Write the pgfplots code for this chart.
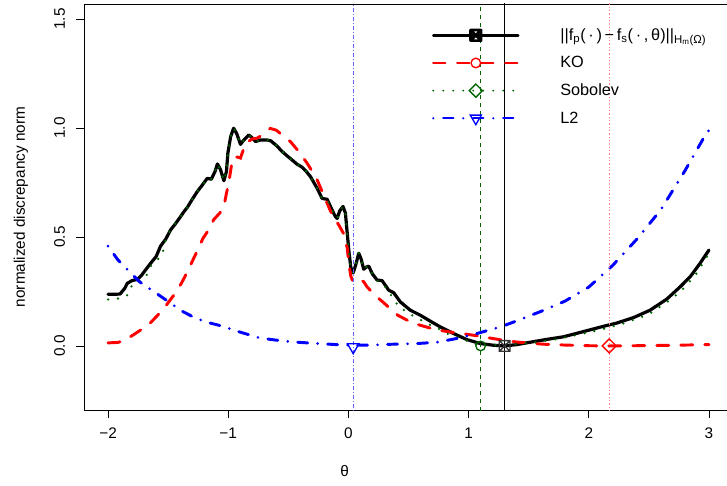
\documentclass[border=0pt]{standalone}
\usepackage{fontspec}
\setmainfont{Liberation Sans}
\usepackage{pgfplots}
\pgfplotsset{compat=1.18}
\definecolor{dkgreen}{RGB}{0,100,0}
% square with a cross (R pch 7)
\pgfdeclareplotmark{sqx}{%
  \pgfpathrectangle{\pgfpoint{-\pgfplotmarksize}{-\pgfplotmarksize}}{\pgfpoint{2\pgfplotmarksize}{2\pgfplotmarksize}}%
  \pgfpathmoveto{\pgfpoint{-\pgfplotmarksize}{-\pgfplotmarksize}}%
  \pgfpathlineto{\pgfpoint{\pgfplotmarksize}{\pgfplotmarksize}}%
  \pgfpathmoveto{\pgfpoint{-\pgfplotmarksize}{\pgfplotmarksize}}%
  \pgfpathlineto{\pgfpoint{\pgfplotmarksize}{-\pgfplotmarksize}}%
  \pgfusepathqstroke}
\newcommand{\lent}[1]{\raisebox{0pt}[9pt][3pt]{#1}}

\pgfplotsset{
  hstyle/.style={black, line width=2.4pt, line cap=round, line join=round},
  kostyle/.style={red, line width=2.2pt, line cap=round, dash pattern=on 9pt off 9pt},
  sobstyle/.style={dkgreen, line width=1.9pt, line cap=round, dash pattern=on 0pt off 7.5pt},
  l2style/.style={blue, line width=2.2pt, line cap=round, dash pattern=on 0pt off 7.5pt on 7.5pt off 7.5pt},
}

\begin{document}
\begin{tikzpicture}[font=\fontsize{11.5}{13.8}\selectfont]
\begin{axis}[
  at={(0,0)}, anchor=south west,
  scale only axis, width=482.25pt, height=304.5pt,
  xmin=-2.2, xmax=3.15, ymin=-0.294, ymax=1.569,
  axis x line*=box, axis y line*=left,
  axis line style={black, line width=0.6pt},
  xtick pos=left, ytick pos=left,
  tick align=outside, major tick length=6pt,
  tick style={black, line width=0.6pt},
  xtick={-2,-1,0,1,2,3}, xticklabels={−2,−1,0,1,2,3},
  ytick={0,0.5,1,1.5}, yticklabels={0.0,0.5,1.0,1.5},
  yticklabel style={rotate=90, anchor=south, inner sep=8pt},
  xticklabel style={inner sep=7pt},
  xlabel={θ}, ylabel={normalized discrepancy norm},
  xlabel style={at={(axis description cs:0.4054,-0.15)}, anchor=center},
  ylabel style={at={(axis description cs:-0.098,0.5)}, anchor=center, rotate=0},
  legend style={draw=none, fill=none, at={(axis description cs:0.5428,0.9408)}, anchor=north west,
    inner sep=0pt, row sep=10.25pt, column sep=31.5pt,
    font=\fontsize{12.2}{14}\selectfont,
    nodes={inner sep=0pt}},
  legend cell align=left,
  legend image code/.code={%
    \path[draw=none, fill=none, use as bounding box] (0pt,-5pt) rectangle (63.75pt,5pt);
    \draw[mark repeat=2,mark phase=2,#1] plot coordinates {(0pt,0pt)(31.9pt,0pt)(63.75pt,0pt)};},
]
% ||f_p - f_s||
\addplot[hstyle, forget plot] coordinates {
(-2.00,0.237)(-1.95,0.237)(-1.90,0.238)(-1.86,0.265)(-1.84,0.287)(-1.80,0.300)(-1.756,0.305)
(-1.72,0.325)(-1.70,0.340)(-1.646,0.379)(-1.60,0.410)(-1.563,0.458)(-1.52,0.490)(-1.48,0.532)
(-1.44,0.560)(-1.397,0.593)(-1.37,0.615)(-1.34,0.636)(-1.30,0.672)(-1.258,0.708)(-1.22,0.735)
(-1.175,0.769)(-1.141,0.765)(-1.11,0.800)(-1.09,0.835)(-1.065,0.810)(-1.036,0.758)(-1.015,0.800)
(-1.003,0.884)(-0.98,0.960)(-0.955,0.999)(-0.93,0.975)(-0.898,0.925)(-0.87,0.945)(-0.829,0.968)
(-0.80,0.955)(-0.773,0.938)(-0.73,0.945)(-0.68,0.945)(-0.648,0.942)(-0.60,0.920)(-0.551,0.892)
(-0.51,0.872)(-0.468,0.853)(-0.43,0.835)(-0.385,0.820)(-0.35,0.800)(-0.316,0.777)(-0.26,0.723)
(-0.219,0.677)(-0.20,0.675)(-0.177,0.673)(-0.136,0.624)(-0.11,0.595)(-0.094,0.585)(-0.072,0.620)
(-0.045,0.640)(-0.025,0.610)(-0.012,0.530)(0.005,0.430)(0.02,0.360)(0.039,0.335)(0.06,0.370)
(0.086,0.425)(0.105,0.400)(0.127,0.352)(0.15,0.362)(0.169,0.366)(0.20,0.330)(0.239,0.302)
(0.28,0.300)(0.335,0.256)(0.377,0.244)(0.432,0.202)(0.515,0.164)(0.598,0.141)(0.668,0.118)
(0.765,0.087)(0.875,0.057)(0.986,0.029)(1.097,0.011)(1.208,0.003)(1.30,0.000)(1.40,0.006)
(1.513,0.017)(1.65,0.030)(1.79,0.042)(1.95,0.065)(2.122,0.090)(2.233,0.105)(2.372,0.130)
(2.51,0.164)(2.649,0.215)(2.76,0.271)(2.843,0.317)(2.926,0.379)(3.00,0.440)};
% KO
\addplot[kostyle, forget plot] coordinates {
(-2.00,0.014)(-1.917,0.016)(-1.85,0.030)(-1.78,0.054)(-1.71,0.080)(-1.64,0.110)(-1.58,0.145)
(-1.515,0.187)(-1.45,0.235)(-1.39,0.287)(-1.34,0.340)(-1.294,0.394)(-1.25,0.445)(-1.21,0.494)
(-1.16,0.535)(-1.12,0.580)(-1.07,0.610)(-1.036,0.640)(-1.015,0.700)(-0.995,0.750)(-0.97,0.840)
(-0.95,0.868)(-0.92,0.866)(-0.898,0.862)(-0.856,0.930)(-0.80,0.950)(-0.76,0.953)(-0.717,0.968)
(-0.65,0.998)(-0.60,0.990)(-0.551,0.968)(-0.482,0.937)(-0.413,0.892)(-0.343,0.838)(-0.30,0.800)
(-0.27,0.775)(-0.22,0.710)(-0.15,0.620)(-0.11,0.580)(-0.08,0.555)(-0.04,0.515)(-0.01,0.450)
(0.003,0.379)(0.02,0.320)(0.039,0.294)(0.06,0.298)(0.09,0.305)(0.127,0.295)(0.155,0.271)
(0.20,0.245)(0.252,0.218)(0.30,0.195)(0.35,0.170)(0.41,0.141)(0.50,0.115)(0.585,0.097)
(0.68,0.082)(0.765,0.071)(0.87,0.062)(0.98,0.054)(1.09,0.045)(1.18,0.036)(1.30,0.025)
(1.40,0.018)(1.50,0.013)(1.62,0.008)(1.80,0.004)(2.00,0.001)(2.17,0.000)(2.40,0.001)
(2.70,0.003)(3.00,0.006)};
% Sobolev
\addplot[sobstyle, forget plot] coordinates {
(-2.00,0.213)(-1.91,0.218)(-1.845,0.228)(-1.80,0.279)(-1.74,0.295)(-1.69,0.310)(-1.65,0.363)
(-1.60,0.390)(-1.55,0.417)(-1.52,0.490)(-1.48,0.532)
(-1.44,0.560)(-1.397,0.593)(-1.37,0.615)(-1.34,0.636)(-1.30,0.672)(-1.258,0.708)(-1.22,0.735)
(-1.175,0.769)(-1.141,0.765)(-1.11,0.800)(-1.09,0.835)(-1.065,0.810)(-1.036,0.758)(-1.015,0.800)
(-1.003,0.884)(-0.98,0.960)(-0.955,0.999)(-0.93,0.975)(-0.898,0.925)(-0.87,0.945)(-0.829,0.968)
(-0.80,0.955)(-0.773,0.938)(-0.73,0.945)(-0.68,0.945)(-0.648,0.942)(-0.60,0.920)(-0.551,0.892)
(-0.51,0.872)(-0.468,0.853)(-0.43,0.835)(-0.385,0.820)(-0.35,0.800)(-0.316,0.777)(-0.26,0.723)
(-0.219,0.677)(-0.20,0.675)(-0.177,0.673)(-0.136,0.624)(-0.11,0.595)(-0.094,0.585)(-0.072,0.620)
(-0.045,0.640)(-0.025,0.610)(-0.012,0.530)(0.005,0.430)(0.02,0.360)(0.039,0.335)(0.06,0.370)
(0.086,0.425)(0.105,0.400)(0.127,0.352)(0.15,0.362)(0.169,0.366)(0.20,0.330)(0.239,0.300)
(0.28,0.290)(0.335,0.250)(0.418,0.180)(0.529,0.141)(0.654,0.103)(0.765,0.075)(0.848,0.049)
(0.958,0.029)(1.10,0.000)(1.20,0.004)(1.30,0.006)(1.50,0.012)(1.70,0.028)(1.90,0.050)
(2.10,0.075)(2.30,0.105)(2.50,0.145)(2.70,0.220)(2.80,0.270)(2.90,0.335)(3.00,0.425)};
% L2
\addplot[l2style, forget plot] coordinates {
(-2.00,0.458)(-1.917,0.394)(-1.82,0.340)(-1.737,0.294)(-1.613,0.247)(-1.502,0.205)(-1.39,0.161)
(-1.266,0.126)(-1.15,0.105)(-1.058,0.092)(-0.934,0.069)(-0.85,0.055)(-0.754,0.039)(-0.65,0.030)
(-0.532,0.022)(-0.40,0.016)(-0.255,0.011)(-0.10,0.006)(0.04,0.003)(0.20,0.004)(0.32,0.007)
(0.45,0.009)(0.57,0.011)(0.66,0.014)(0.75,0.018)(0.90,0.034)(1.07,0.057)(1.28,0.090)
(1.40,0.115)(1.60,0.158)(1.80,0.205)(2.00,0.270)(2.20,0.370)(2.40,0.490)(2.60,0.625)
(2.80,0.804)(2.97,0.968)(3.00,0.990)};
% minimisers
\addplot[blue!60, line width=0.75pt, dash pattern=on 0.75pt off 1.5pt on 3pt off 1.5pt, forget plot] coordinates {(0.04,-0.3)(0.04,1.6)};
\addplot[dkgreen, line width=0.75pt, dash pattern=on 3pt off 3pt, forget plot] coordinates {(1.10,-0.3)(1.10,1.6)};
\addplot[black, line width=0.75pt, forget plot] coordinates {(1.30,-0.3)(1.30,1.6)};
\addplot[red!50, line width=0.75pt, dash pattern=on 1pt off 1.5pt, forget plot] coordinates {(2.17,-0.3)(2.17,1.6)};
\addplot[only marks, black!80, mark=sqx, mark size=4pt, mark options={line width=1pt}, forget plot] coordinates {(1.30,0.0)};
\addplot[only marks, dkgreen, mark=o, mark size=3.6pt, mark options={line width=1pt}, forget plot] coordinates {(1.10,0.0)};
\addplot[only marks, red, mark=square, mark size=3.7pt, mark options={line width=1pt, rotate=45}, forget plot] coordinates {(2.17,0.0)};
\addplot[only marks, blue, mark=triangle, mark size=5pt, mark options={line width=1pt, rotate=180}, forget plot] coordinates {(0.04,-0.005)};
% legend
\addlegendimage{hstyle, line width=1.8pt, mark=sqx, mark size=4pt, mark options={solid, line width=2pt}}
\addlegendentry{\lent{||f\textsubscript{p}(\,·\,)\,−\,f\textsubscript{s}(\,·\,,\,θ)||\textsubscript{H\textsubscript{m}(Ω)}}}
\addlegendimage{kostyle, line width=1.8pt, mark=o, mark size=3.6pt, mark options={solid, line width=1pt}}
\addlegendentry{\lent{KO}}
\addlegendimage{sobstyle, line width=1.6pt, mark=square, mark size=3.5pt, mark options={solid, line width=1pt, rotate=45}}
\addlegendentry{\lent{Sobolev}}
\addlegendimage{l2style, line width=1.8pt, mark=triangle, mark size=4.8pt, mark options={solid, line width=1pt, rotate=180}}
\addlegendentry{\lent{L2}}
\end{axis}
\pgfresetboundingbox
\path[use as bounding box] (-63pt,-56.25pt) rectangle (482.25pt,307.5pt);
\end{tikzpicture}
\end{document}
